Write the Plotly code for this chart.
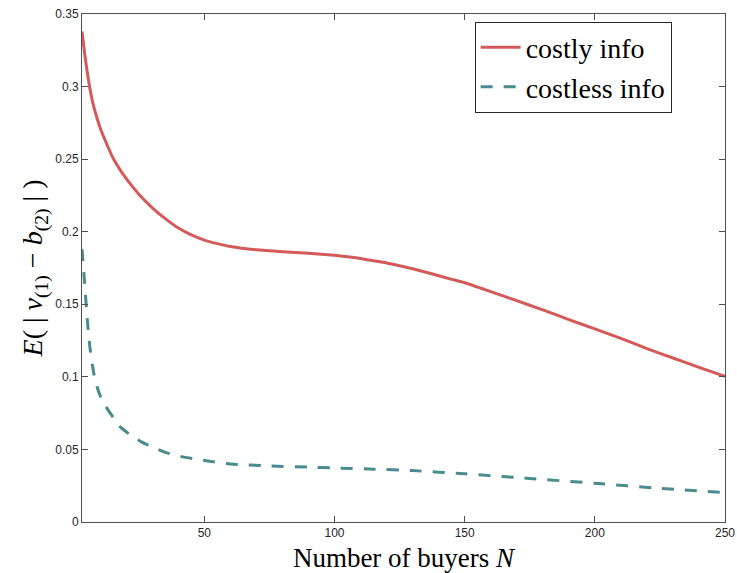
import plotly.graph_objects as go

# Number of buyers N and expected |v(1) - b(2)|
n_costly = [3, 4, 5, 6, 7, 8, 10, 12, 15, 20, 25, 30, 35, 40, 45, 50, 55, 60, 70, 80, 90,
            100, 105, 110, 115, 120, 125, 130, 138, 145, 150, 160, 170, 180, 190,
            200, 210, 220, 230, 240, 250]
v_costly = [0.338, 0.323, 0.310, 0.299, 0.290, 0.283, 0.2715, 0.2625, 0.2505, 0.2365,
            0.2255, 0.2165, 0.209, 0.2025, 0.1978, 0.1942, 0.1918, 0.1898, 0.1875, 0.1862, 0.1852,
            0.1838, 0.1828, 0.1815, 0.1800, 0.1785, 0.1766, 0.1745, 0.1707, 0.1672, 0.1648,
            0.1587, 0.1525, 0.1462, 0.1395, 0.1330, 0.1265, 0.1195, 0.1130, 0.1065, 0.1003]

n_costless = [3, 4, 5, 6, 7, 8, 9, 10, 12, 15, 18, 22, 26, 30, 35, 40, 50, 60, 75, 90,
              100, 115, 130, 150, 175, 200, 225, 250]
v_costless = [0.188, 0.165, 0.140, 0.121, 0.108, 0.098, 0.092, 0.087, 0.080, 0.072,
              0.065, 0.0595, 0.055, 0.0517, 0.048, 0.0455, 0.0424, 0.040, 0.0386, 0.0378,
              0.0372, 0.0364, 0.0354, 0.0332, 0.0300, 0.0267, 0.0232, 0.0202]

x_ticks = [50, 100, 150, 200, 250]
y_ticks = [0, 0.05, 0.1, 0.15, 0.2, 0.25, 0.3, 0.35]
y_ticklabels = ["0", "0.05", "0.1", "0.15", "0.2", "0.25", "0.3", "0.35"]

RED = "#D45A5A"
TEAL = "#4A8B8E"
AXC = "#505050"
SERIF = "Liberation Serif, Times New Roman, serif"

fig = go.Figure()
fig.add_trace(go.Scatter(x=n_costly, y=v_costly, mode="lines", name="costly info",
                         line=dict(color=RED, width=3, shape="spline", smoothing=0.5)))
fig.add_trace(go.Scatter(x=n_costless, y=v_costless, mode="lines", name="costless info",
                         line=dict(color=TEAL, width=3, dash="12px,11px",
                                   shape="spline", smoothing=0.5)))

fig.update_layout(
    width=737, height=573,
    margin=dict(l=82, r=12, t=14, b=51),
    paper_bgcolor="white", plot_bgcolor="white",
    font=dict(family="Liberation Sans, Arial, sans-serif", size=12, color="#262626"),
    showlegend=True,
    legend=dict(x=0.917, y=0.985, xanchor="right", yanchor="top",
                bordercolor="#262626", borderwidth=1, bgcolor="white",
                font=dict(family=SERIF, size=28, color="black"),
                tracegroupgap=0, itemwidth=40),
    xaxis=dict(range=[3, 250], tickvals=x_ticks, ticks="inside", ticklen=6,
               tickcolor=AXC, showline=True, linecolor=AXC, linewidth=1, mirror="ticks",
               showgrid=False, zeroline=False, automargin=False,
               title=dict(text="Number of buyers <i>N</i>", standoff=9,
                          font=dict(family=SERIF, size=27, color="black"))),
    yaxis=dict(range=[0, 0.35], tickvals=y_ticks, ticktext=y_ticklabels, ticks="inside",
               ticklen=6, tickcolor=AXC, showline=True, linecolor=AXC, linewidth=1,
               mirror="ticks", showgrid=False, zeroline=False, automargin=False,
               title=dict(text="<i>E</i>( | <i>ν</i><sub>(1)</sub> − <i>b</i><sub>(2)</sub> | )",
                          standoff=4,
                          font=dict(family=SERIF, size=28, color="black"))),
)

fig.write_html("out.html")
